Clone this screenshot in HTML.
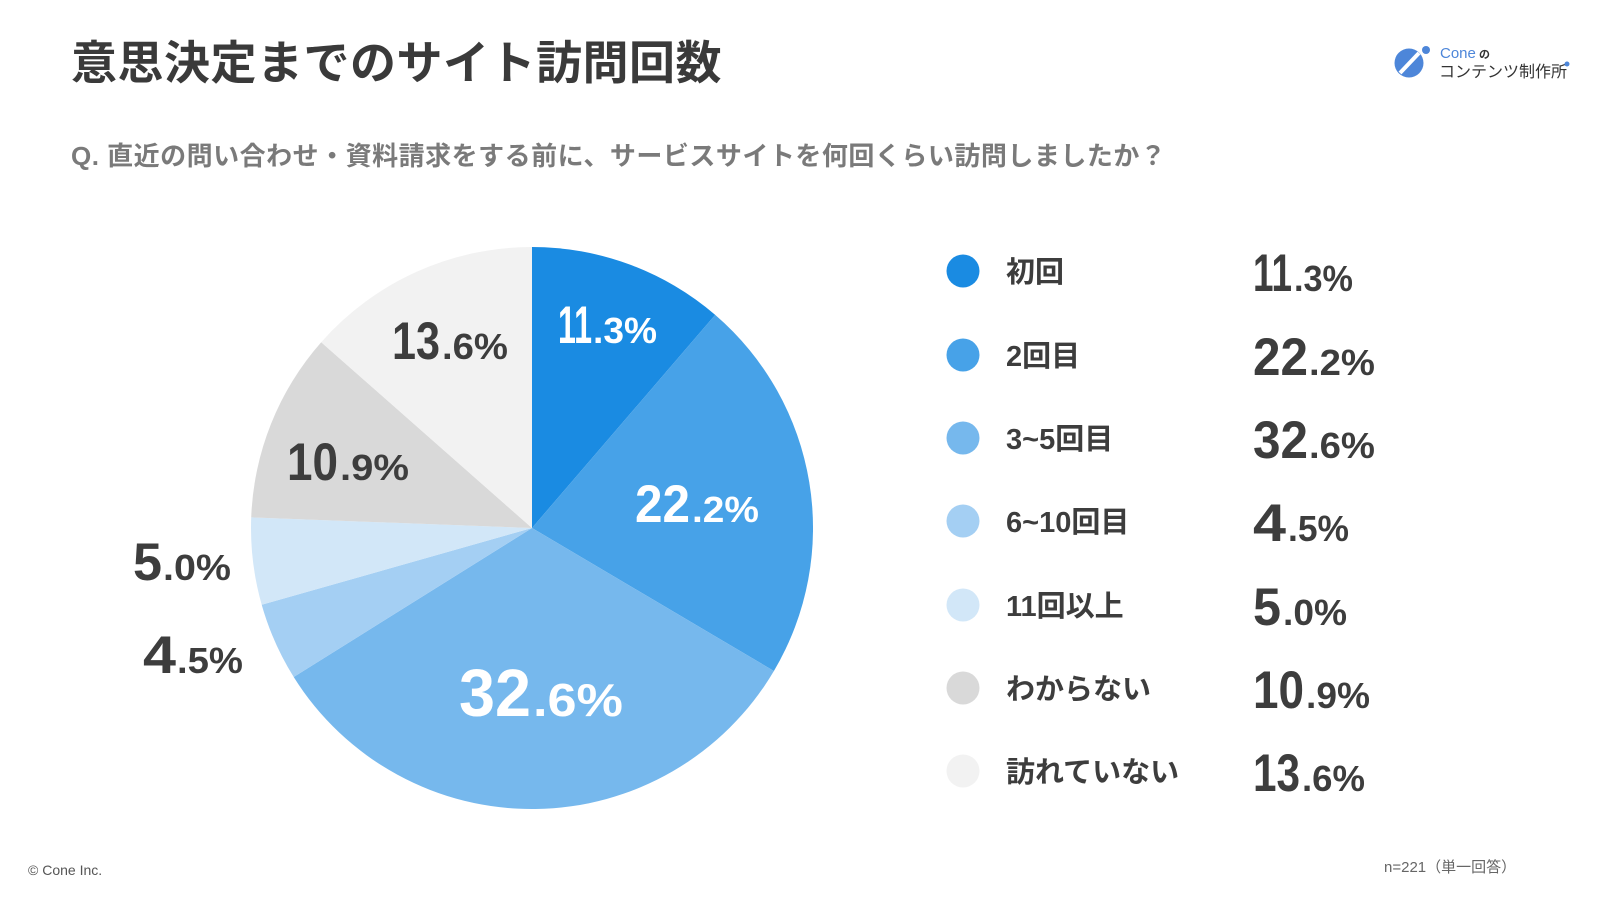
<!DOCTYPE html>
<html>
<head>
<meta charset="utf-8">
<style>
  html, body { margin: 0; padding: 0; background: #ffffff; }
  body { width: 1600px; height: 900px; overflow: hidden; }
  svg { display: block; }
  .jp { font-family: "Liberation Sans", "Noto Sans CJK JP", sans-serif; font-weight: bold; }
  .num { font-family: "Liberation Sans", sans-serif; font-weight: bold; }
</style>
</head>
<body>
<svg width="1600" height="900" viewBox="0 0 1600 900" xmlns="http://www.w3.org/2000/svg">
  <rect width="1600" height="900" fill="#ffffff"/>

  <!-- Title -->
  <text class="jp" x="71" y="79" font-size="46" fill="#3a3a3a" letter-spacing="0.5">意思決定までのサイト訪問回数</text>

  <!-- Subtitle -->
  <text class="jp" x="71" y="165" font-size="26" fill="#7a7a7a" letter-spacing="0.5">Q. 直近の問い合わせ・資料請求をする前に、サービスサイトを何回くらい訪問しましたか？</text>

  <!-- Logo -->
  <circle cx="1409" cy="63" r="14.5" fill="#4d86d9"/>
  <line x1="1400" y1="73" x2="1419" y2="53" stroke="#ffffff" stroke-width="4"/>
  <circle cx="1426" cy="50" r="4" fill="#4d86d9"/>
  <text x="1440" y="58" font-family="Liberation Sans, sans-serif" font-size="15" fill="#4d86d9">Cone</text>
  <text class="jp" x="1479" y="58" font-size="11" fill="#333333">の</text>
  <text x="1439" y="77" font-family="Liberation Sans, 'Noto Sans CJK JP', sans-serif" font-size="16" fill="#333333">コンテンツ制作所</text>
  <circle cx="1567" cy="64" r="2.5" fill="#4d86d9"/>

  <!-- Pie -->
  <g>
    <path d="M532,528 L532,247 A281,281 0 0,1 715.2,314.9 Z" fill="#1a8be2"/>
    <path d="M532,528 L715.2,314.9 A281,281 0 0,1 773.9,671.0 Z" fill="#47a2e8"/>
    <path d="M532,528 L773.9,671.0 A281,281 0 0,1 293.7,677.0 Z" fill="#76b8ed"/>
    <path d="M532,528 L293.7,677.0 A281,281 0 0,1 261.7,604.7 Z" fill="#a4cff3"/>
    <path d="M532,528 L261.7,604.7 A281,281 0 0,1 251.2,517.4 Z" fill="#d2e7f8"/>
    <path d="M532,528 L251.2,517.4 A281,281 0 0,1 321.2,342.2 Z" fill="#d9d9d9"/>
    <path d="M532,528 L321.2,342.2 A281,281 0 0,1 532,247 Z" fill="#f2f2f2"/>
  </g>

  <!-- Pie labels -->
  <g class="num">
    <text x="558" y="343" font-size="53" fill="#ffffff" textLength="34" lengthAdjust="spacingAndGlyphs">11</text>
    <text x="593" y="343" font-size="36" fill="#ffffff" textLength="64" lengthAdjust="spacingAndGlyphs">.3%</text>

    <text x="635" y="522" font-size="53" fill="#ffffff" textLength="55" lengthAdjust="spacingAndGlyphs">22</text>
    <text x="692" y="522" font-size="36" fill="#ffffff" textLength="67" lengthAdjust="spacingAndGlyphs">.2%</text>

    <text x="459" y="716" font-size="67" fill="#ffffff" textLength="72" lengthAdjust="spacingAndGlyphs">32</text>
    <text x="533" y="716" font-size="46" fill="#ffffff" textLength="90" lengthAdjust="spacingAndGlyphs">.6%</text>

    <text x="392" y="359" font-size="53" fill="#3d3d3d" textLength="48" lengthAdjust="spacingAndGlyphs">13</text>
    <text x="442" y="359" font-size="36" fill="#3d3d3d" textLength="66" lengthAdjust="spacingAndGlyphs">.6%</text>

    <text x="287" y="480" font-size="53" fill="#3d3d3d" textLength="51" lengthAdjust="spacingAndGlyphs">10</text>
    <text x="340" y="480" font-size="36" fill="#3d3d3d" textLength="69" lengthAdjust="spacingAndGlyphs">.9%</text>

    <text x="133" y="580" font-size="53" fill="#3d3d3d" textLength="29" lengthAdjust="spacingAndGlyphs">5</text>
    <text x="163" y="580" font-size="36" fill="#3d3d3d" textLength="68" lengthAdjust="spacingAndGlyphs">.0%</text>

    <text x="143" y="673" font-size="53" fill="#3d3d3d" textLength="33" lengthAdjust="spacingAndGlyphs">4</text>
    <text x="177" y="673" font-size="36" fill="#3d3d3d" textLength="66" lengthAdjust="spacingAndGlyphs">.5%</text>
  </g>

  <!-- Legend -->
  <g>
    <circle cx="963" cy="271" r="16.5" fill="#1a8be2"/>
    <circle cx="963" cy="355" r="16.5" fill="#47a2e8"/>
    <circle cx="963" cy="438" r="16.5" fill="#76b8ed"/>
    <circle cx="963" cy="521" r="16.5" fill="#a4cff3"/>
    <circle cx="963" cy="605" r="16.5" fill="#d2e7f8"/>
    <circle cx="963" cy="688" r="16.5" fill="#d9d9d9"/>
    <circle cx="963" cy="771" r="16.5" fill="#f2f2f2"/>
  </g>
  <g class="jp" font-size="29" fill="#3d3d3d">
    <text x="1006" y="282">初回</text>
    <text x="1006" y="366">2回目</text>
    <text x="1006" y="449">3~5回目</text>
    <text x="1006" y="532">6~10回目</text>
    <text x="1006" y="616">11回以上</text>
    <text x="1006" y="699">わからない</text>
    <text x="1006" y="782">訪れていない</text>
  </g>

  <!-- Legend values -->
  <g class="num" fill="#3d3d3d">
    <text x="1253" y="291" font-size="53" textLength="39" lengthAdjust="spacingAndGlyphs">11</text>
    <text x="1294" y="291" font-size="36" textLength="59" lengthAdjust="spacingAndGlyphs">.3%</text>

    <text x="1253" y="375" font-size="53" textLength="55" lengthAdjust="spacingAndGlyphs">22</text>
    <text x="1309" y="375" font-size="36" textLength="66" lengthAdjust="spacingAndGlyphs">.2%</text>

    <text x="1253" y="458" font-size="53" textLength="55" lengthAdjust="spacingAndGlyphs">32</text>
    <text x="1309" y="458" font-size="36" textLength="66" lengthAdjust="spacingAndGlyphs">.6%</text>

    <text x="1253" y="541" font-size="53" textLength="33" lengthAdjust="spacingAndGlyphs">4</text>
    <text x="1288" y="541" font-size="36" textLength="61" lengthAdjust="spacingAndGlyphs">.5%</text>

    <text x="1253" y="625" font-size="53" textLength="28" lengthAdjust="spacingAndGlyphs">5</text>
    <text x="1283" y="625" font-size="36" textLength="64" lengthAdjust="spacingAndGlyphs">.0%</text>

    <text x="1253" y="708" font-size="53" textLength="51" lengthAdjust="spacingAndGlyphs">10</text>
    <text x="1306" y="708" font-size="36" textLength="64" lengthAdjust="spacingAndGlyphs">.9%</text>

    <text x="1253" y="791" font-size="53" textLength="47" lengthAdjust="spacingAndGlyphs">13</text>
    <text x="1302" y="791" font-size="36" textLength="63" lengthAdjust="spacingAndGlyphs">.6%</text>
  </g>

  <!-- Footer -->
  <text x="28" y="875" font-family="Liberation Sans, sans-serif" font-size="14" fill="#555555">© Cone Inc.</text>
  <text x="1384" y="872" font-family="Liberation Sans, 'Noto Sans CJK JP', sans-serif" font-size="15" fill="#666666">n=221（単一回答）</text>
</svg>
</body>
</html>
